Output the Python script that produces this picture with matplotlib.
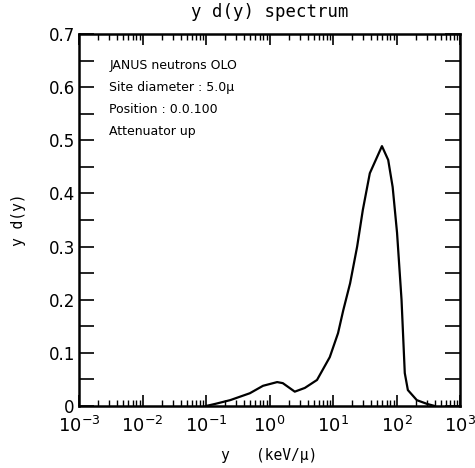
import numpy as np
import matplotlib
matplotlib.use("Agg")
import matplotlib.pyplot as plt
from matplotlib.ticker import LogLocator, MultipleLocator

# data
y_kev = [0.1, 0.14, 0.24, 0.49, 0.79, 1.32, 1.62, 2.5, 3.6, 5.6, 8.9, 12.0, 14.5, 18.6, 24.0, 29.5, 38.0, 59.0, 74.0, 87.0, 102.0, 120.0, 135.0, 151.0, 209.0, 302.0, 400.0]
yd_vals = [0.0, 0.004, 0.011, 0.024, 0.038, 0.045, 0.043, 0.027, 0.034, 0.049, 0.092, 0.137, 0.18, 0.231, 0.30, 0.369, 0.438, 0.489, 0.463, 0.412, 0.326, 0.20, 0.062, 0.03, 0.011, 0.004, 0.0]

ytick_vals = [0.0, 0.1, 0.2, 0.3, 0.4, 0.5, 0.6, 0.7]
ytick_labels = ["0", "0.1", "0.2", "0.3", "0.4", "0.5", "0.6", "0.7"]

notes = ["JANUS neutrons OLO", "Site diameter : 5.0\u03bc", "Position : 0.0.100", "Attenuator up"]

fig = plt.figure(figsize=(4.75, 4.68), dpi=100)
ax = fig.add_axes([79/475, 1-406/468, (460-79)/475, (406-34)/468])

ax.plot(y_kev, yd_vals, color="black", lw=1.6, solid_joinstyle="round")
ax.set_xscale("log")
ax.set_xlim(1e-3, 1e3)
ax.set_ylim(0, 0.7)

ax.xaxis.set_major_locator(LogLocator(base=10, numticks=10))
ax.xaxis.set_minor_locator(LogLocator(base=10, subs=np.arange(2, 10), numticks=20))
ax.set_yticks(ytick_vals, ytick_labels)
ax.yaxis.set_minor_locator(MultipleLocator(0.05))

ax.tick_params(axis="both", which="both", direction="in", top=True, right=True, color="black")
ax.tick_params(axis="x", which="major", length=8, width=1.2, labelsize=13, pad=7)
ax.tick_params(axis="x", which="minor", length=4, width=1.0)
ax.tick_params(axis="y", which="major", length=11, width=1.2, labelsize=12, pad=3)
ax.tick_params(axis="y", which="minor", length=11, width=1.2)

for s in ax.spines.values():
    s.set_linewidth(1.8)

ax.set_title("y d(y) spectrum", fontsize=12.5, pad=12, family="DejaVu Sans Mono")
ax.set_xlabel("y   (keV/\u03bc)", fontsize=10.5, family="DejaVu Sans Mono", labelpad=9)
ax.set_ylabel("y d(y)", fontsize=10.5, family="DejaVu Sans Mono", labelpad=16)

for i, t in enumerate(notes):
    ax.text(0.08, 0.915 - i*0.059, t, transform=ax.transAxes, fontsize=9,
            va="center", ha="left", family="DejaVu Sans")

fig.savefig("out.png", dpi=100)
